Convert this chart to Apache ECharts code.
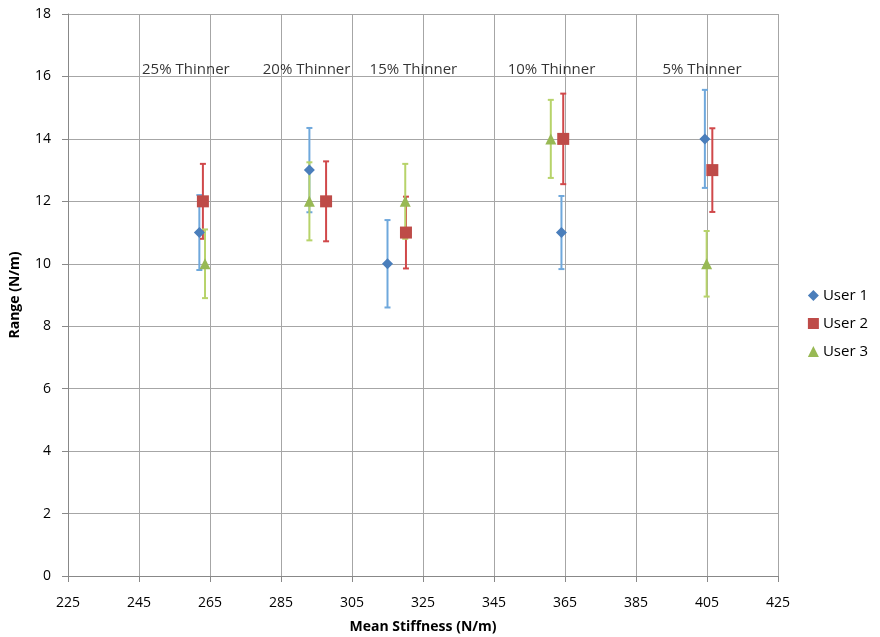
<!DOCTYPE html>
<html><head><meta charset="utf-8">
<script src="https://cdn.jsdelivr.net/npm/echarts@6/dist/echarts.min.js"></script>
<style>html,body{margin:0;padding:0;background:#fff}#c{width:880px;height:637px}</style>
</head><body><div id="c"></div>
<script>
const seriesNames = ['User 1', 'User 2', 'User 3'];
const user1X = [262, 293, 315, 364, 404.4];
const user1Y = [11, 13, 10, 11, 14];
const user1Err = [1.2, 1.35, 1.4, 1.17, 1.57];
const user2X = [263, 297.7, 320.2, 364.5, 406.5];
const user2Y = [12, 12, 11, 14, 13];
const user2Err = [1.2, 1.28, 1.15, 1.45, 1.34];
const user3X = [263.6, 293, 320, 361, 404.9];
const user3Y = [10, 12, 12, 14, 10];
const user3Err = [1.1, 1.25, 1.2, 1.25, 1.05];
const groupLabels = ['25% Thinner', '20% Thinner', '15% Thinner', '10% Thinner', '5% Thinner'];
const groupLabelX = [258.2, 292.2, 322.3, 361.2, 403.6];
const groupLabelY = [16.2, 16.2, 16.2, 16.2, 16.2];

const markColors = ['#4A7EBB', '#BE4B48', '#98B954'];
const barColors = ['#6FA8DC', '#D0484A', '#B7D36A'];
const symbols = ['diamond', 'rect', 'triangle'];
const allX = [user1X, user2X, user3X], allY = [user1Y, user2Y, user3Y], allE = [user1Err, user2Err, user3Err];

const font = 'Open Sans, Liberation Sans, sans-serif';
const series = [];
for (let s = 0; s < 3; s++) {
  const pts = allX[s].map((x, i) => [x, allY[s][i], allE[s][i]]);
  series.push({
    type: 'custom', name: seriesNames[s] + ' err', silent: true, z: 2,
    data: pts,
    renderItem: function (params, api) {
      const x = api.value(0), y = api.value(1), e = api.value(2);
      const top = api.coord([x, y + e]), bot = api.coord([x, y - e]);
      const cw = 3;
      const st = { stroke: barColors[s], lineWidth: 2 };
      return { type: 'group', children: [
        { type: 'line', shape: { x1: top[0], y1: top[1], x2: bot[0], y2: bot[1] }, style: st },
        { type: 'line', shape: { x1: top[0] - cw, y1: top[1], x2: top[0] + cw, y2: top[1] }, style: st },
        { type: 'line', shape: { x1: bot[0] - cw, y1: bot[1], x2: bot[0] + cw, y2: bot[1] }, style: st }
      ]};
    }
  });
}
for (let s = 0; s < 3; s++) {
  series.push({
    type: 'scatter', name: seriesNames[s], symbol: symbols[s],
    symbolSize: s === 1 ? 12 : 11, z: 3,
    itemStyle: { color: markColors[s], opacity: 1 },
    data: allX[s].map((x, i) => [x, allY[s][i]])
  });
}
series.push({
  type: 'scatter', symbolSize: 0, silent: true, z: 4,
  data: groupLabelX.map((x, i) => ({ value: [x, groupLabelY[i]], name: groupLabels[i] })),
  label: { show: true, position: 'inside', formatter: '{b}', color: '#000', fontSize: 15, fontFamily: font }
});

const chart = echarts.init(document.getElementById('c'));
chart.setOption({
  animation: false,
  grid: { left: 68, right: 102, top: 14, bottom: 61, containLabel: false, outerBoundsMode: 'none' },
  legend: {
    orient: 'vertical', right: 7, top: 283, itemGap: 13, itemWidth: 11, itemHeight: 11,
    data: seriesNames.map((n, i) => ({ name: n, icon: symbols[i] })),
    textStyle: { fontSize: 15, fontFamily: font, color: '#000', padding: [0, 0, 0, -1] }
  },
  xAxis: {
    type: 'value', min: 225, max: 425, interval: 20,
    name: 'Mean Stiffness (N/m)', nameLocation: 'middle', nameGap: 44,
    nameTextStyle: { fontWeight: 'bold', fontSize: 14, fontFamily: font, color: '#000' },
    axisLine: { lineStyle: { color: '#888' } },
    axisTick: { show: true, length: 6, lineStyle: { color: '#888' } },
    axisLabel: { color: '#000', fontSize: 14, fontFamily: font, margin: 20 },
    splitLine: { show: true, lineStyle: { color: '#A6A6A6' } }
  },
  yAxis: {
    type: 'value', min: 0, max: 18, interval: 2,
    name: 'Range (N/m)', nameLocation: 'middle', nameGap: 46,
    nameTextStyle: { fontWeight: 'bold', fontSize: 14, fontFamily: font, color: '#000' },
    axisLine: { show: true, lineStyle: { color: '#888' } },
    axisTick: { show: true, length: 6, lineStyle: { color: '#888' } },
    axisLabel: { color: '#000', fontSize: 14, fontFamily: font, margin: 17 },
    splitLine: { show: true, lineStyle: { color: '#A6A6A6' } }
  },
  series: series
});
</script></body></html>
